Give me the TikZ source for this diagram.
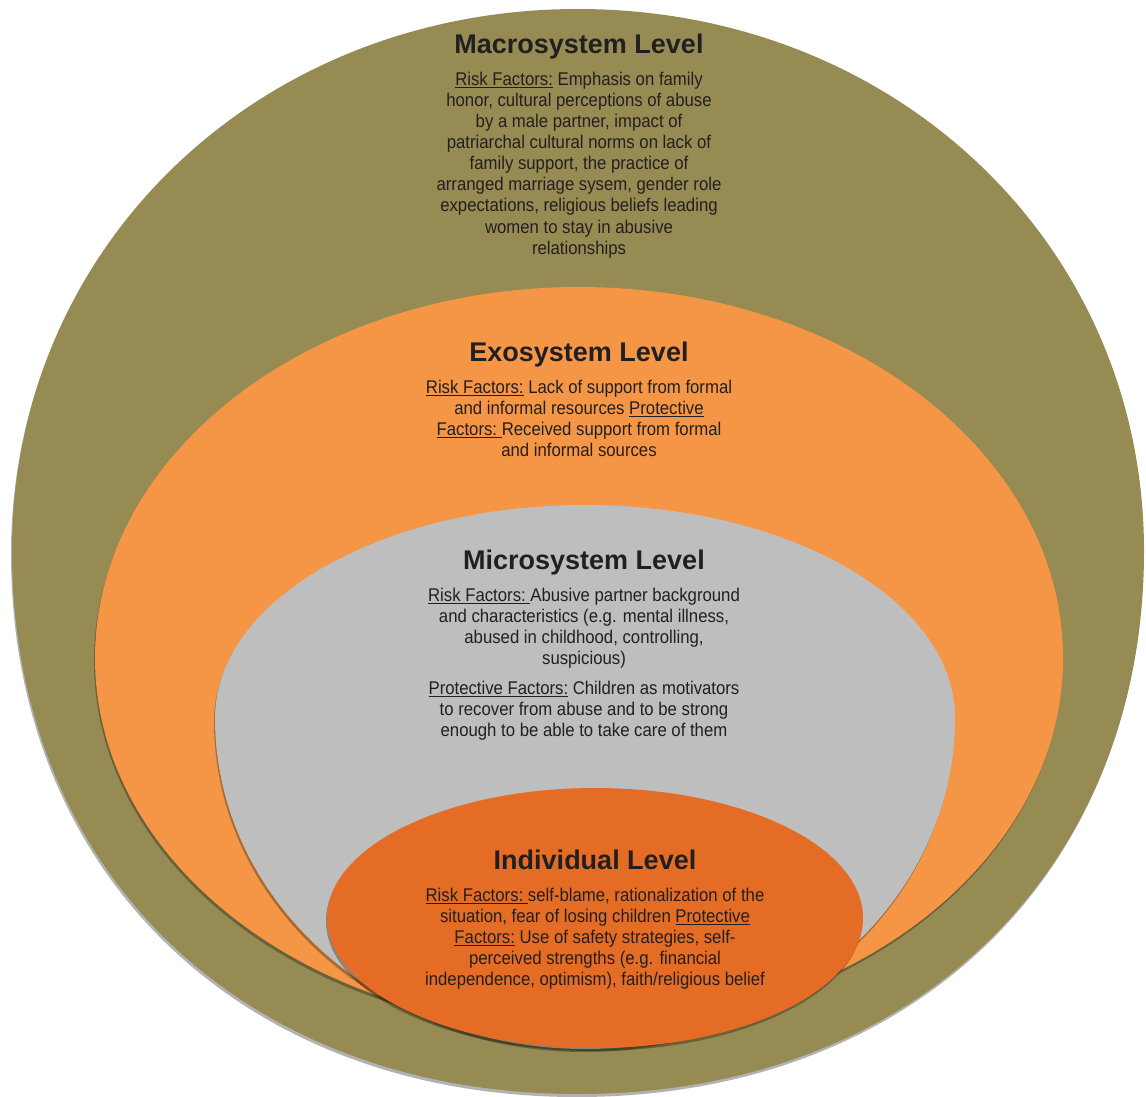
\documentclass[tikz,border=0pt]{standalone}
\usepackage{fontspec}
\setmainfont{Liberation Sans}[FakeStretch=0.91]
\newfontfamily\headfont{Liberation Sans}
\usetikzlibrary{positioning, shadows}

\definecolor{macroolive}{RGB}{150,139,82}
\definecolor{exoorange}{RGB}{245,150,70}
\definecolor{microgray}{RGB}{190,190,190}
\definecolor{indivorange}{RGB}{229,108,37}
\definecolor{textdark}{RGB}{35,31,32}

\begin{document}
\begin{tikzpicture}[
    x=1pt, y=-1pt,
    ringshadow/.style={drop shadow={shadow xshift=-1pt, shadow yshift=-3pt, opacity=0.3, fill=black}},
    leveltitle/.style={anchor=base, inner sep=0pt, outer sep=0pt, text depth=0pt, text=textdark, font=\headfont\bfseries\fontsize{27}{30}\selectfont},
    levelbody/.style={inner sep=0pt, outer sep=0pt, align=center, text=textdark, font=\fontsize{18.4}{21.1}\selectfont}
]
\useasboundingbox (0,0) rectangle (1146,1096);

% Nested levels, outermost first
\fill[macroolive, ringshadow] (12,551) .. controls (12,872) and (244,1094) .. (578,1094)
    .. controls (912,1094) and (1144,872) .. (1144,551)
    .. controls (1144,245) and (896,9) .. (578,9)
    .. controls (260,9) and (12,245) .. (12,551) -- cycle;
\fill[exoorange, ringshadow] (579,658) ellipse [x radius=484, y radius=371];
\fill[microgray, ringshadow] (215,718) arc[start angle=180, end angle=360, x radius=370, y radius=213]
    arc[start angle=0, end angle=180, x radius=370, y radius=331] -- cycle;
\fill[indivorange, ringshadow] (595,918) ellipse [x radius=268, y radius=130];

% Macrosystem
\node[leveltitle] (macrotitle) at (579,53) {Macrosystem Level};
\node[levelbody, below=19pt of macrotitle] (macrobody) {\underline{Risk Factors:} Emphasis on family\\
    honor, cultural perceptions of abuse\\
    by a male partner, impact of\\
    patriarchal cultural norms on lack of\\
    family support, the practice of\\
    arranged marriage sysem, gender role\\
    expectations, religious beliefs leading\\
    women to stay in abusive\\
    relationships};

% Exosystem
\node[leveltitle] (exotitle) at (579,361) {Exosystem Level};
\node[levelbody, below=19pt of exotitle] (exobody) {\underline{Risk Factors:} Lack of support from formal\\
    and informal resources \underline{Protective}\\
    \underline{Factors:\ }Received support from formal\\
    and informal sources};

% Microsystem
\node[leveltitle] (microtitle) at (584,569) {Microsystem Level};
\node[levelbody, below=19pt of microtitle] (microbody) {\underline{Risk Factors:\ }Abusive partner background\\
    and characteristics (e.g. mental illness,\\
    abused in childhood, controlling,\\
    suspicious)\\[8.9pt]
    \underline{Protective Factors:} Children as motivators\\
    to recover from abuse and to be strong\\
    enough to be able to take care of them};

% Individual
\node[leveltitle] (indivtitle) at (595,869) {Individual Level};
\node[levelbody, below=19pt of indivtitle] (indivbody) {\underline{Risk Factors:\ }self-blame, rationalization of the\\
    situation, fear of losing children \underline{Protective}\\
    \underline{Factors:} Use of safety strategies, self-\\
    perceived strengths (e.g. financial\\
    independence, optimism), faith/religious belief};

\end{tikzpicture}
\end{document}
